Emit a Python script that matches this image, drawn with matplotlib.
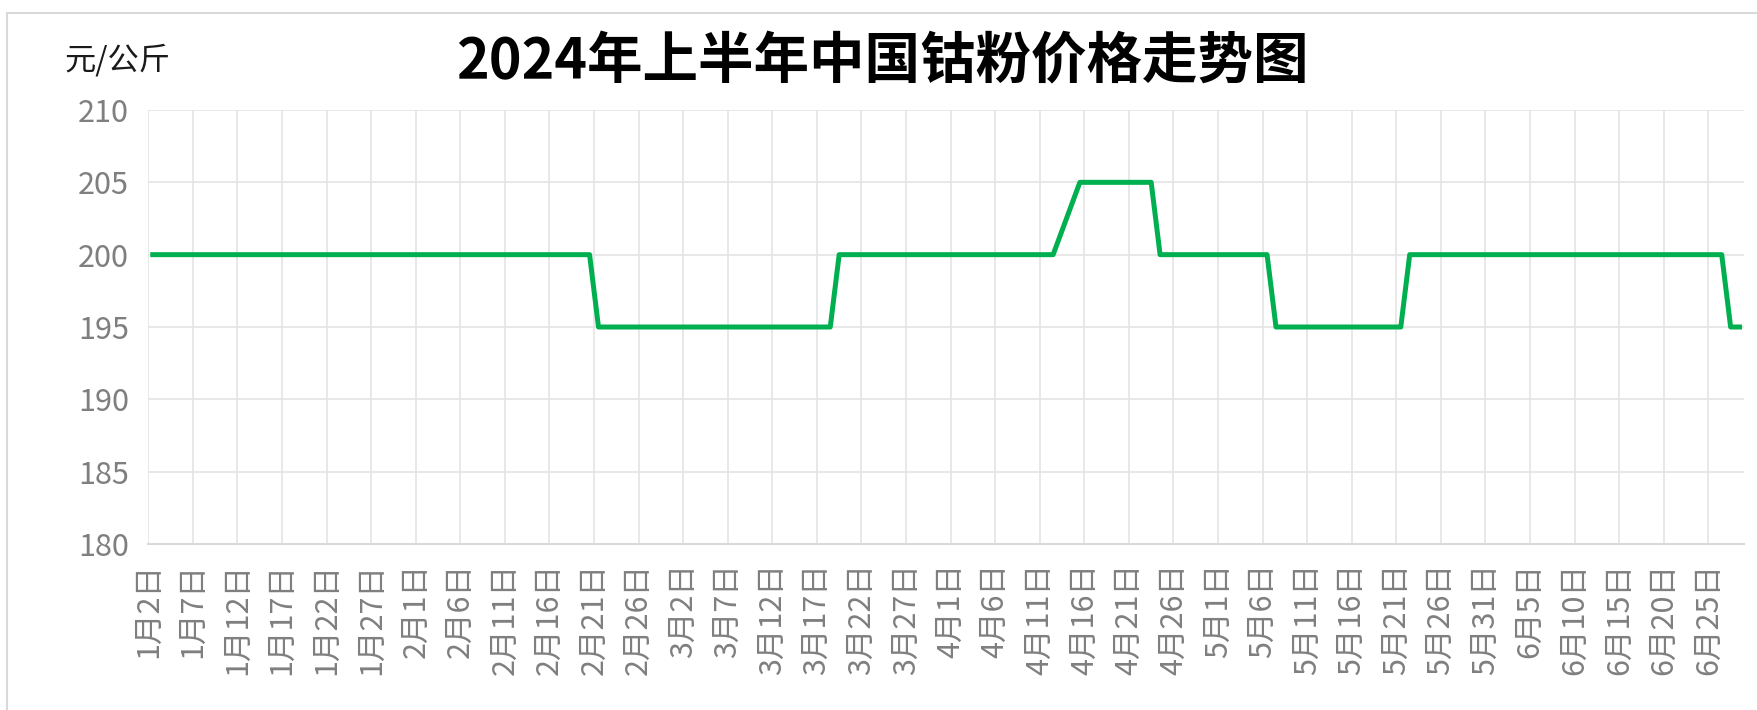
import pandas as pd
import matplotlib
matplotlib.use("Agg")
import matplotlib.pyplot as plt
from matplotlib.lines import Line2D

plt.rcParams['font.family'] = ['Noto Sans CJK SC', 'DejaVu Sans']

# price turning points (trading days), flat in between
dates = ['2024-01-02', '2024-02-20', '2024-02-21', '2024-03-18', '2024-03-19',
         '2024-04-12', '2024-04-15', '2024-04-23', '2024-04-24', '2024-05-06',
         '2024-05-07', '2024-05-21', '2024-05-22', '2024-06-26', '2024-06-27',
         '2024-06-28']
prices = [200, 200, 195, 195, 200, 200, 205, 205, 200, 200, 195, 195,
          200, 200, 195, 195]

tick_dates = pd.date_range('2024-01-02', '2024-06-25', freq='5D')
tick_labels = [f"{d.month}月{d.day}日" for d in tick_dates]
y_ticks = [180, 185, 190, 195, 200, 205, 210]

title = '2024年上半年中国钴粉价格走势图'
unit = '元/公斤'

W, H = 1757, 710
fig = plt.figure(figsize=(W / 100, H / 100), dpi=100)
ax = fig.add_axes([148.3 / W, 1 - 544 / H, (1744 - 148.3) / W, (544 - 110) / H])

# each day is a slot, points sit in the middle of it
x = pd.to_datetime(dates) + pd.Timedelta(hours=12)
ax.plot(x, prices, color='#00b050', lw=3.6, solid_joinstyle='round', zorder=3)

ax.set_xlim(pd.Timestamp('2024-01-02'), pd.Timestamp('2024-06-29'))
ax.set_ylim(180, 210)
ax.set_xticks(tick_dates)
ax.set_xticklabels(tick_labels, rotation=90, fontsize=22, color='#7f7f7f')
ax.set_yticks(y_ticks)
ax.set_yticklabels([str(v) for v in y_ticks], fontsize=22, color='#7f7f7f')
ax.tick_params(axis='x', length=0, pad=14)
ax.tick_params(axis='y', length=0, pad=14)

ax.set_axisbelow(True)
ax.grid(color='#e4e4e4', lw=1.2)
for s in ['top', 'right', 'left']:
    ax.spines[s].set_visible(False)
ax.spines['bottom'].set_color('#d9d9d9')
ax.spines['bottom'].set_linewidth(1.5)

fig.text(882 / W, 1 - 62 / H, title, fontsize=40, fontweight='bold',
         ha='center', va='center', color='black')
fig.text(64 / W, 1 - 60 / H, unit, fontsize=22.5, ha='left', va='center',
         color='#1a1a1a')

# outer chart border (only top and left visible)
fig.add_artist(Line2D([7 / W, 7 / W], [0, 1 - 13 / H], transform=fig.transFigure,
                      color='#d9d9d9', lw=1.5))
fig.add_artist(Line2D([7 / W, 1], [1 - 13 / H, 1 - 13 / H], transform=fig.transFigure,
                      color='#d9d9d9', lw=1.5))

fig.savefig('out.png', dpi=100)
